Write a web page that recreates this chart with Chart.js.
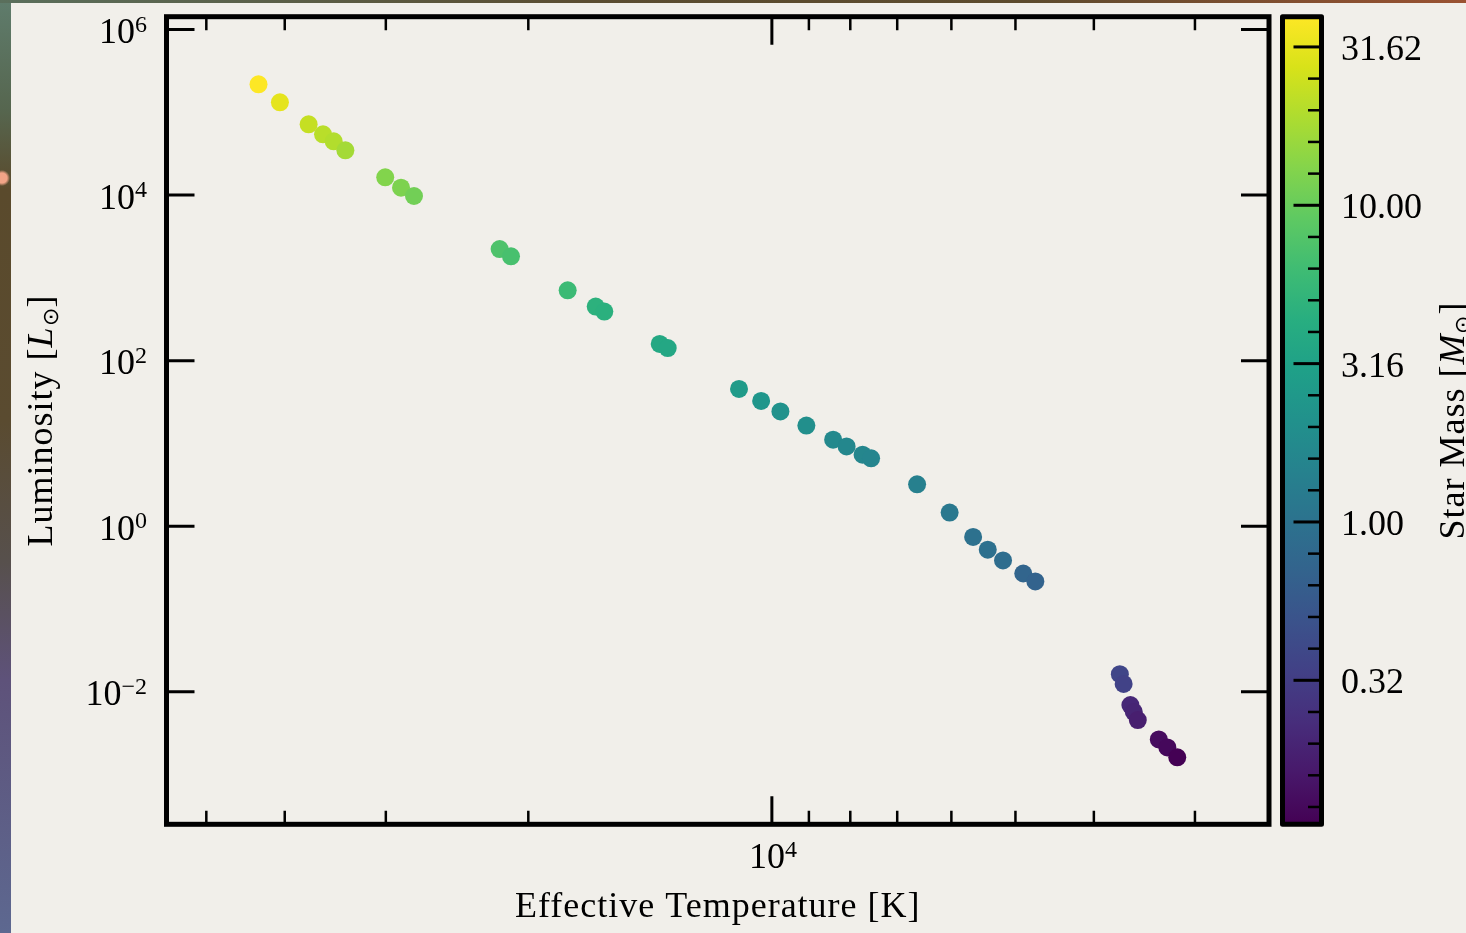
<!DOCTYPE html>
<html>
<head>
<meta charset="utf-8">
<title>HR diagram</title>
<script src="https://cdn.jsdelivr.net/npm/chart.js@4.4.1/dist/chart.umd.min.js"></script>
<style>
  html, body { margin: 0; padding: 0; background: #f1efea; overflow: hidden; }
  #wrap { position: relative; width: 1466px; height: 933px; }
  #hr { position: absolute; left: 0; top: 0; }
  .strip-left {
    position: absolute; left: 0; top: 0; width: 11px; height: 933px;
    background:
      radial-gradient(circle at 2px 178px, #f2a487 0 5px, rgba(0,0,0,0) 8px),
      linear-gradient(to bottom, #5f7c6c 0px, #56664f 110px, #5a4a2c 190px, #5a4b30 420px, #57504c 560px, #5e527a 680px, #5d6890 933px);
  }
  .strip-top {
    position: absolute; left: 0; top: 0; width: 1466px; height: 3px;
    background: linear-gradient(to right, #5a6f5c, #5a4c30 40%, #5c4a2c 70%, #9a5232);
  }
</style>
</head>
<body>
<div id="wrap">
  <canvas id="hr" width="1466" height="933"></canvas>
  <div class="strip-left"></div>
  <div class="strip-top"></div>
</div>
<script>
// effective temperature [K], luminosity [L_sun], mass [M_sun]
const temperature = [43100, 40550, 37370, 35870, 34800, 33660, 30050, 28730, 27690,
  21700, 21010, 17880, 16510, 16110, 13760, 13450, 10980, 10310, 9760, 9065,
  8400, 8085, 7725, 7540, 6615, 6030, 5640, 5410, 5180, 4890, 4725,
  3715, 3675, 3605, 3570, 3530, 3325, 3245, 3155];
const luminosity = [2.18e5, 1.32e5, 7.16e4, 5.42e4, 4.47e4, 3.48e4, 1.64e4, 1.23e4, 9750,
  2230, 1820, 708, 450, 392, 159, 142, 45.5, 32.6, 24.3, 16.4,
  11.1, 9.2, 7.3, 6.6, 3.2, 1.46, 0.74, 0.52, 0.385, 0.268, 0.215,
  0.0163, 0.0124, 0.0069, 0.0057, 0.00454, 0.00265, 0.00212, 0.00161];
const mass = [39.4, 31.1, 23.2, 20.9, 19.7, 17.5, 12.9, 12.2, 11.0,
  7.5, 7.0, 6.0, 4.75, 4.6, 3.76, 3.65, 2.64, 2.35, 2.13, 1.97,
  1.70, 1.65, 1.60, 1.56, 1.39, 1.16, 0.97, 0.95, 0.89, 0.73, 0.70,
  0.38, 0.35, 0.21, 0.20, 0.18, 0.132, 0.125, 0.111];

// ticks
const tempTicks = [3000, 4000, 5000, 6000, 7000, 8000, 9000, 10000, 20000, 30000, 40000, 50000];
const tempLabelled = [10000];
const lumTicks = [1e-2, 1, 1e2, 1e4, 1e6];
const massTickLogs = [-0.5, 0, 0.5, 1, 1.5]; // labelled as 0.32, 1.00, 3.16, 10.00, 31.62

// axis limits
const tempRange = [2430, 56000];
const lumRange = [2.5e-4, 1.43e6];

const BG = '#f1efea';
const FONT = "'Liberation Serif', 'Times New Roman', serif";
const viridisStops = ['#440154', '#48186a', '#472d7b', '#424086', '#3b528b', '#33638d',
  '#2c728e', '#26828e', '#21918c', '#1fa088', '#28ae80', '#3fbc73', '#5ec962',
  '#84d44b', '#addc30', '#d8e219', '#fde725'];

const logMass = mass.map(m => Math.log10(m));
const cMin = Math.min(...logMass);
const cMax = Math.max(...logMass);

function hexRgb(h) {
  return [1, 3, 5].map(i => parseInt(h.slice(i, i + 2), 16));
}

function viridis(t) {
  t = Math.min(1, Math.max(0, t));
  const n = viridisStops.length - 1;
  const i = Math.min(n - 1, Math.floor(t * n));
  const f = t * n - i;
  const a = hexRgb(viridisStops[i]);
  const b = hexRgb(viridisStops[i + 1]);
  const c = a.map((v, k) => Math.round(v + (b[k] - v) * f));
  return `rgb(${c[0]}, ${c[1]}, ${c[2]})`;
}

// draw a run of text pieces with their own fonts / vertical shifts
function drawParts(ctx, parts, x, y, align, spacing) {
  ctx.letterSpacing = spacing || '0px';
  let w = 0;
  parts.forEach(p => { ctx.font = p.font; p.w = ctx.measureText(p.text).width; w += p.w; });
  let cx = align === 'center' ? x - w / 2 : align === 'right' ? x - w : x;
  parts.forEach(p => {
    ctx.font = p.font;
    ctx.fillText(p.text, cx, y + (p.dy || 0));
    cx += p.w;
  });
  ctx.letterSpacing = '0px';
}

function powParts(v) {
  const e = Math.round(Math.log10(v));
  const s = e < 0 ? '\u2212' + (-e) : String(e);
  return [
    { text: '10', font: `36px ${FONT}` },
    { text: s, font: `24px ${FONT}`, dy: -11.5 }
  ];
}

const figure = {
  id: 'figure',
  beforeDraw(chart) {
    const ctx = chart.ctx;
    ctx.save();
    ctx.fillStyle = BG;
    ctx.fillRect(0, 0, chart.width, chart.height);
    ctx.restore();
  },
  afterDatasetsDraw(chart) {
    const { ctx, chartArea: a, scales } = chart;
    const MAJ = 28, MIN = 13.5;
    ctx.save();
    ctx.strokeStyle = '#000';
    ctx.fillStyle = '#000';
    ctx.lineCap = 'butt';

    // x ticks, bottom and top, pointing in
    scales.x.ticks.forEach(t => {
      const px = scales.x.getPixelForValue(t.value);
      const len = t.major ? MAJ : MIN;
      ctx.lineWidth = t.major ? 3 : 2.5;
      ctx.beginPath();
      ctx.moveTo(px, a.bottom); ctx.lineTo(px, a.bottom - len);
      ctx.moveTo(px, a.top); ctx.lineTo(px, a.top + len);
      ctx.stroke();
    });
    // y ticks, left and right
    scales.y.ticks.forEach(t => {
      const py = scales.y.getPixelForValue(t.value);
      ctx.lineWidth = 3;
      ctx.beginPath();
      ctx.moveTo(a.left, py); ctx.lineTo(a.left + MAJ, py);
      ctx.moveTo(a.right, py); ctx.lineTo(a.right - MAJ, py);
      ctx.stroke();
    });

    // frame
    ctx.lineWidth = 5;
    ctx.lineJoin = 'miter';
    ctx.strokeRect(a.left, a.top, a.right - a.left, a.bottom - a.top);

    // tick labels
    ctx.textAlign = 'left';
    ctx.textBaseline = 'alphabetic';
    scales.y.ticks.forEach(t => {
      const py = scales.y.getPixelForValue(t.value);
      drawParts(ctx, powParts(t.value), 147, py + 13.5, 'right');
    });
    scales.x.ticks.filter(t => t.major).forEach(t => {
      const px = scales.x.getPixelForValue(t.value);
      drawParts(ctx, powParts(t.value), px + 1, a.bottom + 44, 'center');
    });

    // axis titles
    const midY = (a.top + a.bottom) / 2;
    drawParts(ctx, [{ text: 'Effective Temperature [K]', font: `36px ${FONT}` }],
      (a.left + a.right) / 2, 917, 'center', '1px');

    ctx.save();
    ctx.translate(52, midY);
    ctx.rotate(-Math.PI / 2);
    drawParts(ctx, [
      { text: 'Luminosity [', font: `36px ${FONT}` },
      { text: 'L', font: `italic 36px ${FONT}` },
      { text: '\u2299', font: `22px ${FONT}`, dy: 6 },
      { text: ']', font: `36px ${FONT}` }
    ], 0, 0, 'center', '1px');
    ctx.restore();

    // colorbar
    const cs = scales.c;
    const yTop = cs.getPixelForValue(cs.max);
    const yBot = cs.getPixelForValue(cs.min);
    const x0 = a.right + 13.5, x1 = a.right + 52.5;
    const grad = ctx.createLinearGradient(0, yBot, 0, yTop);
    viridisStops.forEach((c, i) => grad.addColorStop(i / (viridisStops.length - 1), c));
    ctx.fillStyle = grad;
    ctx.fillRect(x0, yTop, x1 - x0, yBot - yTop);

    ctx.fillStyle = '#000';
    cs.ticks.forEach(t => {
      const py = cs.getPixelForValue(t.value);
      const len = t.major ? MAJ : MIN;
      ctx.lineWidth = t.major ? 3 : 2.5;
      ctx.beginPath();
      ctx.moveTo(x1, py); ctx.lineTo(x1 - len, py);
      ctx.stroke();
      if (t.major) {
        ctx.font = `36px ${FONT}`;
        ctx.fillText(Math.pow(10, t.value).toFixed(2), 1341, py + 13);
      }
    });
    ctx.lineWidth = 5;
    ctx.lineJoin = 'round';
    ctx.strokeRect(x0, yTop, x1 - x0, yBot - yTop);

    ctx.save();
    ctx.translate(1464, midY);
    ctx.rotate(-Math.PI / 2);
    drawParts(ctx, [
      { text: 'Star Mass [', font: `36px ${FONT}` },
      { text: 'M', font: `italic 36px ${FONT}` },
      { text: '\u2299', font: `22px ${FONT}`, dy: 6 },
      { text: ']', font: `36px ${FONT}` }
    ], 0, 0, 'center', '1px');
    ctx.restore();

    ctx.restore();
  }
};

const hidden = { display: false };

new Chart(document.getElementById('hr'), {
  type: 'scatter',
  data: {
    datasets: [{
      label: 'Stars',
      data: temperature.map((t, i) => ({ x: t, y: luminosity[i] })),
      pointBackgroundColor: logMass.map(v => viridis((v - cMin) / (cMax - cMin))),
      pointBorderWidth: 0,
      pointRadius: 9,
      pointHoverRadius: 9
    }]
  },
  options: {
    responsive: false,
    maintainAspectRatio: false,
    devicePixelRatio: 1,
    animation: false,
    events: [],
    layout: { padding: { top: 16.7, right: 0, bottom: 0, left: 0 } },
    plugins: { legend: hidden, tooltip: { enabled: false } },
    scales: {
      x: {
        type: 'logarithmic',
        reverse: true,
        min: tempRange[0],
        max: tempRange[1],
        grid: hidden,
        border: hidden,
        ticks: { display: false, autoSkip: false },
        afterBuildTicks: s => { s.ticks = tempTicks.map(v => ({ value: v, major: tempLabelled.includes(v) })); },
        afterFit: s => { s.height = 108.7; }
      },
      y: {
        type: 'logarithmic',
        min: lumRange[0],
        max: lumRange[1],
        grid: hidden,
        border: hidden,
        ticks: { display: false, autoSkip: false },
        afterBuildTicks: s => { s.ticks = lumTicks.map(v => ({ value: v, major: true })); },
        afterFit: s => { s.width = 166.5; }
      },
      c: {
        type: 'linear',
        position: 'right',
        min: cMin,
        max: cMax,
        grid: hidden,
        border: hidden,
        ticks: { display: false, autoSkip: false },
        afterBuildTicks: s => {
          const ticks = [];
          for (let k = Math.ceil(cMin * 10); k <= Math.floor(cMax * 10); k++) {
            const v = k / 10;
            ticks.push({ value: v, major: massTickLogs.some(m => Math.abs(m - v) < 1e-9) });
          }
          s.ticks = ticks;
        },
        afterFit: s => { s.width = 197; }
      }
    }
  },
  plugins: [figure]
});
</script>
</body>
</html>
